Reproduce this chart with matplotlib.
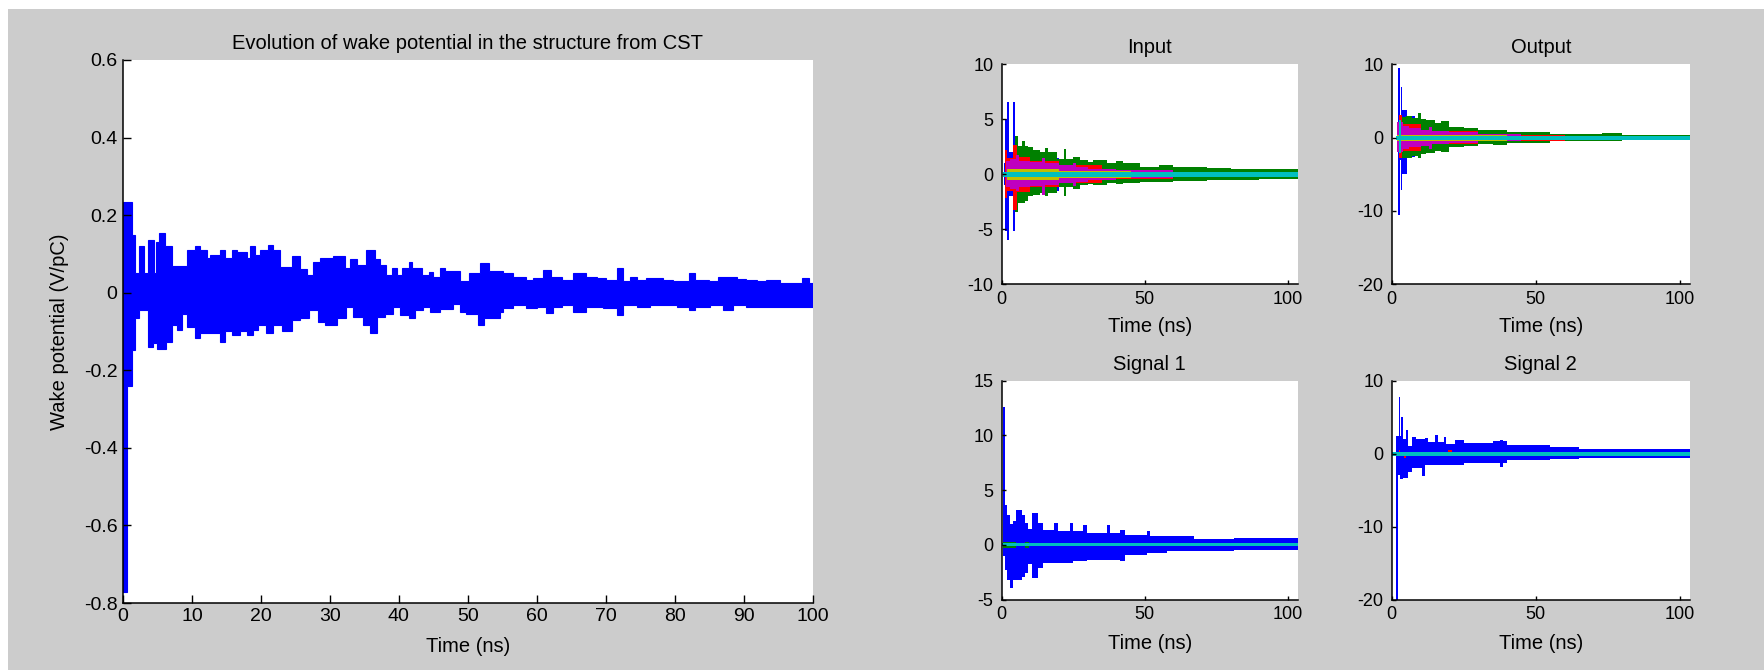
import matplotlib
matplotlib.use("Agg")
import matplotlib.pyplot as plt
from matplotlib.patches import Rectangle

plt.rcParams['font.family'] = ['Liberation Sans', 'DejaVu Sans']
plt.rcParams['axes.unicode_minus'] = False

# ---------------- data (envelopes) ----------------
# Left: wake potential, upper / lower envelope (step edges in ns, values in V/pC)
wake_hi_t = [0.0, 1.26, 1.74, 2.37, 3.1, 3.67, 4.5, 4.79, 5.27, 6.09, 7.06, 9.33, 10.44, 11.16,
             12.13, 12.6, 14.07, 14.79, 15.76, 16.48, 17.93, 18.41, 19.14, 19.86, 21.07, 21.8,
             22.76, 24.45, 25.66, 26.63, 27.6, 28.56, 30.5, 32.19, 32.9, 33.9, 35.3, 36.5, 37.3,
             38.2, 39.0, 39.7, 40.4, 41.4, 41.9, 43.3, 44.3, 45.0, 46.0, 46.7, 48.9, 50.1, 51.8,
             53.0, 55.1, 56.6, 58.5, 59.5, 60.9, 62.1, 63.6, 65.3, 67.2, 68.7, 70.1, 71.6, 72.5,
             73.5, 74.5, 75.9, 78.3, 79.8, 82.0, 83.0, 84.9, 86.3, 89.0, 90.4, 91.9, 93.3, 95.3,
             98.4, 99.4, 100.0]
wake_hi = [0.235, 0.149, 0.05, 0.12, 0.05, 0.136, 0.05, 0.13, 0.153, 0.12, 0.07, 0.11, 0.12,
           0.11, 0.09, 0.097, 0.11, 0.089, 0.11, 0.105, 0.089, 0.12, 0.097, 0.11, 0.123, 0.11,
           0.067, 0.094, 0.06, 0.046, 0.08, 0.089, 0.094, 0.063, 0.086, 0.071, 0.11, 0.086,
           0.071, 0.046, 0.063, 0.046, 0.063, 0.08, 0.063, 0.046, 0.054, 0.041, 0.063, 0.055,
           0.03, 0.05, 0.076, 0.055, 0.052, 0.041, 0.033, 0.037, 0.058, 0.041, 0.033, 0.05,
           0.041, 0.037, 0.033, 0.063, 0.029, 0.041, 0.033, 0.037, 0.033, 0.029, 0.05, 0.033,
           0.029, 0.041, 0.035, 0.033, 0.029, 0.033, 0.025, 0.037, 0.024]
wake_lo_t = [0.0, 0.6, 1.26, 1.74, 2.37, 3.67, 4.4, 4.9, 6.2, 7.06, 7.78, 8.5, 9.33, 10.44, 11.16,
             14.07, 14.79, 15.76, 16.96, 17.93, 18.9, 19.6, 20.8, 21.8, 23.0, 24.45, 25.66, 26.9,
             28.3, 29.3, 31.0, 32.4, 33.4, 34.8, 35.8, 36.8, 38.0, 39.2, 40.2, 41.4, 42.3, 43.5,
             44.5, 46.0, 47.9, 48.9, 49.8, 51.5, 52.3, 54.7, 55.1, 56.6, 58.5, 60.0, 61.4, 62.4,
             63.6, 65.3, 67.2, 69.6, 71.6, 72.5, 74.5, 76.4, 80.3, 82.0, 83.0, 85.1, 87.0, 88.5,
             90.4, 100.0]
wake_lo = [-0.771, -0.24, -0.148, -0.066, -0.045, -0.139, -0.13, -0.146, -0.126, -0.083, -0.096,
           -0.054, -0.088, -0.118, -0.105, -0.126, -0.1, -0.109, -0.1, -0.109, -0.096, -0.083,
           -0.105, -0.083, -0.1, -0.07, -0.066, -0.045, -0.075, -0.083, -0.066, -0.036, -0.062,
           -0.083, -0.105, -0.062, -0.054, -0.036, -0.058, -0.066, -0.045, -0.036, -0.05,
           -0.041, -0.028, -0.05, -0.054, -0.083, -0.066, -0.049, -0.04, -0.032, -0.04, -0.036,
           -0.053, -0.036, -0.032, -0.049, -0.036, -0.04, -0.057, -0.032, -0.036, -0.032,
           -0.036, -0.045, -0.036, -0.032, -0.045, -0.032, -0.036]

# Input panel
in_blue_t = [0.9, 1.2, 1.75, 2.55, 3.84, 4.77, 10, 20, 30, 45, 60]
in_blue_hi = [1.0, 5.0, 6.6, 2.0, 6.6, 2.0, 1.5, 1.0, 0.7, 0.4]
in_blue_lo = [-1.0, -5.2, -6.0, -2.0, -5.2, -2.0, -1.5, -1.0, -0.7, -0.4]
in_green_t = [3.0, 4.0, 4.7, 5.8, 7.0, 8.0, 9.3, 11.0, 13.4, 15.0, 16.0, 19.2, 21.6, 22.5, 25.0,
              27.4, 30.0, 32.0, 36.7, 40.0, 42.5, 48.4, 55.0, 60.0, 71.7, 80.0, 90.0, 103.5]
in_green_hi = [1.5, 2.0, 3.5, 2.6, 3.0, 2.6, 2.5, 2.2, 2.0, 2.4, 2.0, 1.4, 2.3, 1.4, 1.6, 1.29,
               1.1, 1.29, 0.98, 1.2, 0.98, 0.68, 0.8, 0.68, 0.55, 0.44, 0.5]
in_green_lo = [-1.5, -2.0, -3.4, -2.6, -2.65, -2.4, -2.0, -1.9, -1.7, -2.0, -1.7, -1.13, -2.0,
               -1.13, -1.3, -1.0, -0.9, -1.0, -0.83, -0.9, -0.83, -0.67, -0.7, -0.6, -0.52,
               -0.52, -0.45]
in_red_t = [1.0, 2.0, 3.8, 5.2, 10, 20, 35, 60]
in_red_hi = [2.2, 1.5, 2.66, 1.6, 1.2, 0.8, 0.4]
in_red_lo = [-2.2, -1.5, -3.26, -1.6, -1.2, -0.8, -0.4]
in_mag_t = [1.5, 3.0, 5.0, 6.0, 10, 14, 15, 20, 25, 26, 30, 40, 60, 90]
in_mag_hi = [1.2, 1.4, 1.75, 1.2, 1.1, 1.45, 1.0, 0.8, 1.0, 0.7, 0.5, 0.35, 0.2]
in_mag_lo = [-1.2, -1.3, -1.5, -1.2, -1.1, -1.89, -1.0, -0.8, -1.1, -0.7, -0.5, -0.35, -0.2]
in_yel_t = [2.0, 20, 45]
in_yel_hi = [0.5, 0.3]
in_yel_lo = [-0.5, -0.3]
in_cyan_t = [0.5, 103.5]
in_cyan_hi = [0.22]
in_cyan_lo = [-0.22]

# Output panel
out_blue_t = [1.9, 2.3, 2.9, 3.1, 3.7, 5.2, 8, 15, 25, 40, 55]
out_blue_hi = [1.5, 9.45, 2.5, 6.95, 3.77, 2.9, 2.0, 1.3, 0.8, 0.4]
out_blue_lo = [-1.5, -10.55, -3.0, -7.1, -4.9, -2.6, -2.0, -1.3, -0.8, -0.4]
out_green_t = [3.5, 5.0, 7.0, 9.0, 10.0, 12.0, 15.0, 17.0, 20.0, 25.0, 30.0, 35.0, 40.0, 47.0,
               55.0, 65.0, 73.0, 80.0, 103.4]
out_green_hi = [2.8, 3.0, 2.7, 3.3, 2.6, 2.4, 2.0, 2.2, 1.4, 1.3, 1.05, 1.1, 0.7, 0.8, 0.55,
                0.5, 0.6, 0.35]
out_green_lo = [-2.8, -2.8, -2.5, -2.8, -2.3, -2.1, -1.8, -1.9, -1.3, -1.2, -0.9, -0.95, -0.7,
                -0.75, -0.5, -0.45, -0.5, -0.2]
out_red_t = [2.0, 2.5, 3.5, 10, 30, 60]
out_red_hi = [2.0, 3.1, 1.8, 0.9, 0.4]
out_red_lo = [-2.0, -2.8, -1.8, -0.9, -0.4]
out_mag_t = [2.0, 4.0, 6.0, 10, 13, 14, 20, 30, 45, 65]
out_mag_hi = [2.17, 1.6, 1.3, 1.1, 1.5, 0.9, 0.7, 0.45, 0.25]
out_mag_lo = [-1.9, -1.5, -1.3, -1.1, -1.5, -0.9, -0.7, -0.45, -0.25]
out_yel_t = [2.0, 40]
out_yel_hi = [0.4]
out_yel_lo = [-0.4]
out_cyan_t = [1.5, 2.6, 3.4, 103.4]
out_cyan_hi = [0.26, 2.4, 0.26]
out_cyan_lo = [-0.26, -2.15, -0.26]

# Signal 1 panel
s1_blue_t = [0.5, 1.1, 1.2, 1.8, 2.9, 3.8, 5.0, 7.0, 8.2, 9.3, 10.5, 12.8, 14.6, 18.1, 19.8,
             23.9, 25.05, 28.5, 29.7, 36.7, 37.9, 41.4, 43.1, 50.7, 51.9, 57.7, 67.0, 81.0, 103.5]
s1_blue_hi = [12.6, 3.7, 3.66, 2.74, 1.9, 2.2, 3.2, 2.74, 1.98, 1.4, 2.9, 1.98, 1.37, 1.98,
              1.22, 1.98, 1.22, 1.83, 1.07, 1.83, 1.07, 1.37, 0.91, 1.22, 0.76, 0.76, 0.52, 0.61]
s1_blue_lo = [-1.0, -2.3, -2.3, -3.2, -3.96, -3.2, -3.2, -2.9, -2.6, -1.8, -3.05, -2.1, -1.68,
              -1.68, -1.68, -1.68, -1.52, -1.52, -1.37, -1.37, -1.37, -1.52, -0.91, -0.76, -0.76,
              -0.61, -0.61, -0.46]
s1_green_t = [0.5, 5.0, 8.0, 9.5]
s1_green_hi = [0.3, 0.12, 0.3]
s1_green_lo = [-0.3, -0.12, -0.3]
s1_cyan_t = [0.0, 103.5]
s1_cyan_hi = [0.13]
s1_cyan_lo = [-0.13]

# Signal 2 panel
s2_blue_t = [1.6, 2.3, 2.6, 3.0, 3.3, 3.8, 5.0, 5.5, 7.0, 8.5, 10.5, 11.5, 12.5, 15, 16, 18, 19,
             22, 25, 35, 37.5, 38.5, 40, 55, 65, 103.5]
s2_blue_hi = [2.4, 2.4, 7.8, 2.4, 5.0, 2.0, 3.3, 1.0, 2.25, 2.0, 2.0, 2.2, 1.6, 2.6, 1.6, 2.3,
              1.3, 1.9, 1.5, 1.7, 1.9, 1.7, 1.2, 0.9, 0.6]
s2_blue_lo = [-20.0, -2.9, -2.9, -3.5, -3.5, -3.3, -3.3, -2.5, -2.0, -2.0, -3.1, -1.5, -1.5,
              -1.5, -1.5, -1.5, -1.5, -1.5, -1.25, -1.3, -1.8, -1.3, -0.85, -0.8, -0.62]
s2_red_t = [2.5, 3.0, 4.3, 5.0, 19.5, 20.8]
s2_red_hi = [0.5, 0.0, -0.1, 0.0, 0.5]
s2_red_lo = [0.0, 0.0, -0.6, 0.0, 0.1]
s2_cyan_t = [0.0, 103.5]
s2_cyan_hi = [0.27]
s2_cyan_lo = [-0.27]

time_label = 'Time (ns)'

BLUE = (0, 0, 1)
GREEN = (0, 0.5, 0)
RED = (1, 0, 0)
CYAN = (0, 0.75, 0.75)
MAG = (0.75, 0, 0.75)
YEL = (0.75, 0.75, 0)

W, H = 1764, 670
fig = plt.figure(figsize=(W / 100, H / 100), dpi=100, facecolor='white')
fig.add_artist(Rectangle((8 / W, 0), 1, 1 - 9 / H, transform=fig.transFigure,
                         facecolor='#cccccc', edgecolor='none', zorder=-10))


def axes_px(x0, y0, x1, y1):
    return fig.add_axes([x0 / W, 1 - y1 / H, (x1 - x0) / W, (y1 - y0) / H])


def band(ax, edges, hi, lo, color, lw=0.0):
    ax.stairs(hi, edges, baseline=lo, fill=True, facecolor=color, edgecolor=color, linewidth=lw)


def style(ax, xlim, ylim, xticks, yticks, ticklen, fs, xpad, ypad):
    ax.set_facecolor('white')
    ax.set_xlim(*xlim)
    ax.set_ylim(*ylim)
    ax.set_xticks(xticks)
    ax.set_yticks(yticks)
    ax.set_xticklabels([str(v) for v in xticks])
    ax.set_yticklabels([('%g' % v) for v in yticks])
    for s in ('top', 'right'):
        ax.spines[s].set_visible(False)
    for s in ('left', 'bottom'):
        ax.spines[s].set_linewidth(1.1)
        ax.spines[s].set_color('black')
    ax.tick_params(axis='both', direction='in', length=ticklen, width=1.0, labelsize=fs,
                   colors='black')
    ax.tick_params(axis='x', pad=xpad)
    ax.tick_params(axis='y', pad=ypad)


LABEL_FS = 14.5

# ---- left big panel ----
axL = axes_px(123, 60, 812.7, 603)
# upper and lower halves overlap slightly at zero so no seam appears
axL.stairs(wake_hi, wake_hi_t, baseline=-0.02, fill=True, facecolor=BLUE, edgecolor=BLUE,
           linewidth=0.8)
axL.stairs(wake_lo, wake_lo_t, baseline=0.02, fill=True, facecolor=BLUE, edgecolor=BLUE,
           linewidth=0.8)
style(axL, (0, 100), (-0.8, 0.6), list(range(0, 101, 10)),
      [-0.8, -0.6, -0.4, -0.2, 0, 0.2, 0.4, 0.6], 5.5, 14, 3.5, 4)
axL.set_title('Evolution of wake potential in the structure from CST', fontsize=LABEL_FS, pad=8)
axL.set_xlabel(time_label, fontsize=LABEL_FS)
axL.xaxis.set_label_coords(0.5, -0.062)
axL.set_ylabel('Wake potential (V/pC)', fontsize=LABEL_FS)
axL.yaxis.set_label_coords(-0.078, 0.5)

XLIM_S = (0, 103.5)

# ---- Input ----
axI = axes_px(1001.7, 64.3, 1298, 284.2)
band(axI, in_blue_t, in_blue_hi, in_blue_lo, BLUE)
band(axI, in_green_t, in_green_hi, in_green_lo, GREEN)
band(axI, in_red_t, in_red_hi, in_red_lo, RED)
band(axI, in_mag_t, in_mag_hi, in_mag_lo, MAG)
band(axI, in_yel_t, in_yel_hi, in_yel_lo, YEL)
band(axI, in_cyan_t, in_cyan_hi, in_cyan_lo, CYAN)
style(axI, XLIM_S, (-10, 10), [0, 50, 100], [-10, -5, 0, 5, 10], 3, 13, 5, 6)
axI.set_title('Input', fontsize=LABEL_FS, pad=8)
axI.set_xlabel(time_label, fontsize=LABEL_FS)
axI.xaxis.set_label_coords(0.5, -0.15)

# ---- Output ----
axO = axes_px(1391.7, 64.3, 1690, 284.2)
band(axO, out_blue_t, out_blue_hi, out_blue_lo, BLUE)
band(axO, out_green_t, out_green_hi, out_green_lo, GREEN)
band(axO, out_red_t, out_red_hi, out_red_lo, RED)
band(axO, out_mag_t, out_mag_hi, out_mag_lo, MAG)
band(axO, out_yel_t, out_yel_hi, out_yel_lo, YEL)
band(axO, out_cyan_t, out_cyan_hi, out_cyan_lo, CYAN)
style(axO, XLIM_S, (-20, 10), [0, 50, 100], [-20, -10, 0, 10], 3, 13, 5, 6)
axO.set_title('Output', fontsize=LABEL_FS, pad=8)
axO.set_xlabel(time_label, fontsize=LABEL_FS)
axO.xaxis.set_label_coords(0.5, -0.15)

# ---- Signal 1 ----
axS1 = axes_px(1001.7, 380.7, 1298, 599.5)
band(axS1, s1_blue_t, s1_blue_hi, s1_blue_lo, BLUE)
band(axS1, s1_green_t, s1_green_hi, s1_green_lo, GREEN)
band(axS1, s1_cyan_t, s1_cyan_hi, s1_cyan_lo, CYAN)
style(axS1, XLIM_S, (-5, 15), [0, 50, 100], [-5, 0, 5, 10, 15], 3, 13, 5, 6)
axS1.set_title('Signal 1', fontsize=LABEL_FS, pad=8)
axS1.set_xlabel(time_label, fontsize=LABEL_FS)
axS1.xaxis.set_label_coords(0.5, -0.158)

# ---- Signal 2 ----
axS2 = axes_px(1391.7, 380.7, 1690, 599.5)
band(axS2, s2_blue_t, s2_blue_hi, s2_blue_lo, BLUE)
band(axS2, s2_red_t, s2_red_hi, s2_red_lo, RED)
band(axS2, s2_cyan_t, s2_cyan_hi, s2_cyan_lo, CYAN)
style(axS2, XLIM_S, (-20, 10), [0, 50, 100], [-20, -10, 0, 10], 3, 13, 5, 6)
axS2.set_title('Signal 2', fontsize=LABEL_FS, pad=8)
axS2.set_xlabel(time_label, fontsize=LABEL_FS)
axS2.xaxis.set_label_coords(0.5, -0.158)

fig.savefig('out.png', dpi=100, facecolor=fig.get_facecolor())
